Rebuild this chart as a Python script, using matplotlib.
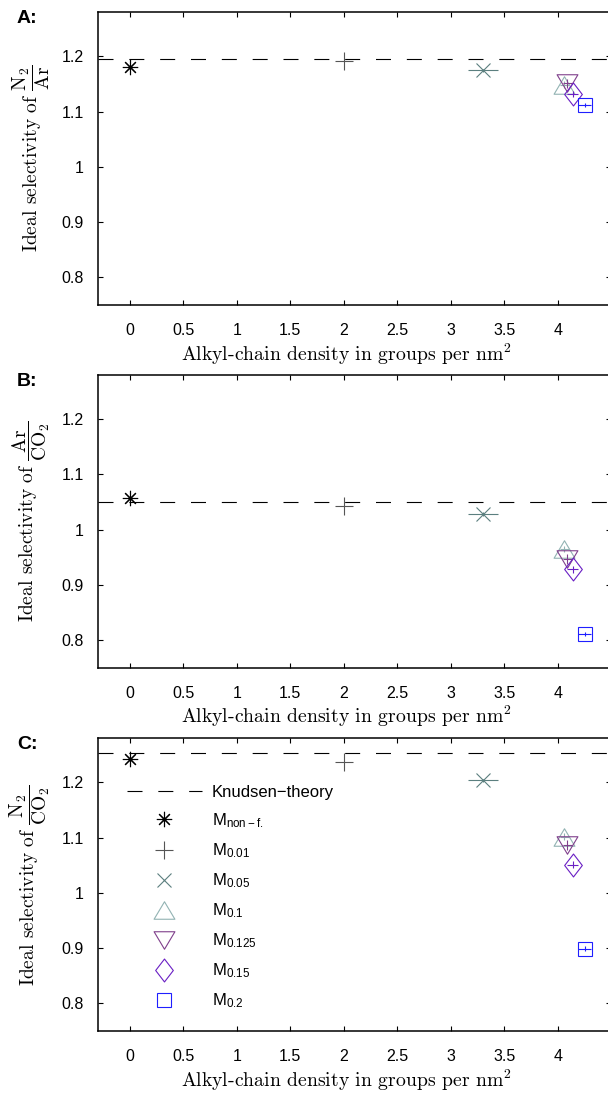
import matplotlib
matplotlib.use("Agg")
import matplotlib.pyplot as plt
from matplotlib.path import Path

plt.rcParams['font.family'] = ['Liberation Sans', 'DejaVu Sans']
plt.rcParams['mathtext.fontset'] = 'custom'
plt.rcParams['mathtext.rm'] = 'Liberation Sans'
plt.rcParams['mathtext.it'] = 'Liberation Sans:italic'
plt.rcParams['mathtext.bf'] = 'Liberation Sans:bold'
plt.rcParams['lines.scale_dashes'] = False

# ---- data -------------------------------------------------------------
series_labels = [r"M$_{\mathrm{non-f.}}$", r"M$_{\mathrm{0.01}}$", r"M$_{\mathrm{0.05}}$",
                 r"M$_{\mathrm{0.1}}$", r"M$_{\mathrm{0.125}}$", r"M$_{\mathrm{0.15}}$",
                 r"M$_{\mathrm{0.2}}$"]
density = [0.0, 2.0, 3.3, 4.06, 4.09, 4.14, 4.25]
density_err = [0.0, 0.0, 0.14, 0.04, 0.04, 0.05, 0.06]

sel_n2_ar = [1.181, 1.192, 1.175, 1.149, 1.151, 1.132, 1.112]
sel_ar_co2 = [1.057, 1.042, 1.028, 0.965, 0.946, 0.928, 0.811]
sel_n2_co2 = [1.243, 1.237, 1.204, 1.102, 1.086, 1.051, 0.899]
sel_err = [0.0, 0.0, 0.003, 0.006, 0.009, 0.006, 0.004]

knudsen = [1.1945, 1.0495, 1.2536]

panel_letters = ["A:", "B:", "C:"]
ratio_tex = [r"\dfrac{\mathrm{N}_2}{\mathrm{Ar}}",
             r"\dfrac{\mathrm{Ar}}{\mathrm{CO}_2}",
             r"\dfrac{\mathrm{N}_2}{\mathrm{CO}_2}"]
x_ticks = [0, 0.5, 1, 1.5, 2, 2.5, 3, 3.5, 4]
x_ticklabels = ["0", "0.5", "1", "1.5", "2", "2.5", "3", "3.5", "4"]
y_ticks = [0.8, 0.9, 1.0, 1.1, 1.2]
y_ticklabels = ["0.8", "0.9", "1", "1.1", "1.2"]

# ---- marker styles ------------------------------------------------------
tri_up = Path([(0, 0.84), (-1, -0.84), (1, -0.84), (0, 0.84)],
              [Path.MOVETO, Path.LINETO, Path.LINETO, Path.CLOSEPOLY])
tri_dn = Path([(0, -0.84), (-1, 0.84), (1, 0.84), (0, -0.84)],
              [Path.MOVETO, Path.LINETO, Path.LINETO, Path.CLOSEPOLY])
diamond = Path([(0, 1), (0.77, 0), (0, -1), (-0.77, 0), (0, 1)],
               [Path.MOVETO, Path.LINETO, Path.LINETO, Path.LINETO, Path.CLOSEPOLY])

colors = ['#000000', '#555555', '#5b7f7f', '#92b3b3', '#80408c', '#6a1fc4', '#1f1fff']
markers = [(8, 2, 0), '+', 'x', tri_up, tri_dn, diamond, 's']
msizes = [11, 13, 9.5, 15, 15, 16.5, 10]

W, H = 608, 1093
fig = plt.figure(figsize=(W / 100, H / 100), dpi=100)

left = 97.7 / W
width = 513.6 / W
ax_h = 292.5 / H
tops = [12.3, 375.0, 738.3]

panels = [sel_n2_ar, sel_ar_co2, sel_n2_co2]
for i, vals in enumerate(panels):
    top = tops[i]
    ax = fig.add_axes([left, 1 - (top + 292.5) / H, width, ax_h])
    ax.set_xlim(-0.3, 4.5)
    ax.set_ylim(0.75, 1.28)

    kl, = ax.plot([-0.3, 4.5], [knudsen[i], knudsen[i]], color='k', lw=0.8,
                  dashes=(10.8, 11.4), label="Knudsen\u2212theory")
    handles = [kl]
    for j in range(len(density)):
        ax.errorbar(density[j], vals[j], xerr=density_err[j], yerr=sel_err[j],
                    fmt='none', ecolor=colors[j], elinewidth=0.8, capsize=0)
        h, = ax.plot(density[j], vals[j], linestyle='none', marker=markers[j],
                     markersize=msizes[j], markerfacecolor='none',
                     markeredgecolor=colors[j], markeredgewidth=0.8,
                     label=series_labels[j])
        handles.append(h)

    ax.set_xticks(x_ticks)
    ax.set_xticklabels(x_ticklabels)
    ax.set_yticks(y_ticks)
    ax.set_yticklabels(y_ticklabels)
    ax.tick_params(direction='in', top=True, right=True, length=3.3, width=0.8,
                   labelsize=11.5)
    ax.tick_params(axis='x', pad=13)
    ax.tick_params(axis='y', pad=10)
    for s in ax.spines.values():
        s.set_linewidth(1.1)

    ax.set_xlabel(r"Alkyl-chain density in groups per nm$^2$", family='cmr10',
                  math_fontfamily='cm', fontsize=14.2)
    ax.xaxis.set_label_coords(0.485, -0.125)
    ax.set_ylabel(r"Ideal selectivity of $" + ratio_tex[i] + "$", family='cmr10',
                  math_fontfamily='cm', fontsize=14)
    ax.yaxis.set_label_coords(-0.089, 0.5)

    fig.text(17 / W, 1 - (top + 6) / H, panel_letters[i], fontsize=14,
             fontweight='bold', ha='left', va='center')

    if i == 2:
        ax.legend(handles=handles, loc='upper left', frameon=False,
                  bbox_to_anchor=((126.7 - 97.7) / 513.6, (1030.8 - 785) / 292.5),
                  borderaxespad=0, borderpad=0, handlelength=4.5,
                  handletextpad=0.62, labelspacing=0.68, fontsize=12)

fig.savefig("out.png", dpi=100)
